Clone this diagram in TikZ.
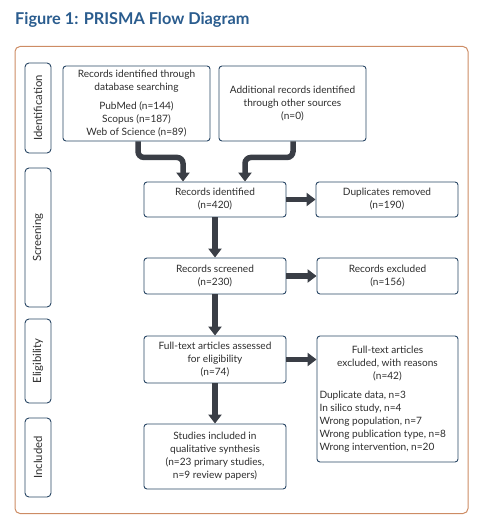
\documentclass[tikz,border=0pt]{standalone}
\usepackage{fontspec}
\setmainfont{Lato}
\usetikzlibrary{arrows.meta}
\definecolor{titleblue}{RGB}{42,92,142}
\definecolor{frameorange}{RGB}{205,140,100}
\definecolor{boxblue}{RGB}{40,70,100}
\definecolor{txt}{RGB}{45,45,45}
\definecolor{arrowgray}{RGB}{58,62,70}
\tikzset{
  box/.style={draw=boxblue, line width=0.9pt, rounded corners=3pt, align=center,
    text=txt, font=\fontsize{10.1pt}{13pt}\selectfont, inner sep=2pt},
  stagebox/.style={draw=boxblue, line width=0.9pt, rounded corners=4pt,
    minimum width=26pt},
  stagetext/.style={rotate=90, text=txt, font=\fontsize{11.3pt}{13pt}\selectfont},
  arr/.style={draw=arrowgray, line width=5.5pt,
    -{Triangle[width=13pt,length=9pt]}},
}
\begin{document}
\begin{tikzpicture}[x=1pt,y=-1pt]
\useasboundingbox (0,0) rectangle (479,526);
\node[anchor=base west, text=titleblue, font=\fontsize{16.3pt}{18pt}\selectfont\bfseries, inner sep=0pt] (title) at (15,25) {Figure 1: PRISMA Flow Diagram};
\draw[frameorange, line width=1pt, rounded corners=5pt] (15,46.5) rectangle (468,513.5);

% stage labels
\node[stagebox, minimum height=90pt] (sid) at (38,108) {};
\node[stagetext] (sidt) at (sid.center) {Identification};
\node[stagebox, minimum height=139pt] (ssc) at (38,237.5) {};
\node[stagetext] (ssct) at (ssc.center) {Screening};
\node[stagebox, minimum height=84pt] (sel) at (38,361) {};
\node[stagetext] (selt) at (sel.center) {Eligibility};
\node[stagebox, minimum height=79pt] (sin) at (38,457.5) {};
\node[stagetext] (sint) at (sin.center) {Included};

% boxes
\node[box, minimum width=147pt, minimum height=75pt] (b1) at (136.5,103.5)
  {Records identified through\\database searching\\[6pt]PubMed (n=144)\\Scopus (n=187)\\Web of Science (n=89)};
\node[box, minimum width=147pt, minimum height=75pt] (b2) at (292.5,103.5)
  {Additional records identified\\through other sources\\(n=0)};
\node[box, minimum width=142pt, minimum height=35pt] (ri) at (215,199.5)
  {Records identified\\(n=420)};
\node[box, minimum width=142pt, minimum height=35pt] (dr) at (387,199.5)
  {Duplicates removed\\(n=190)};
\node[box, minimum width=142pt, minimum height=36pt] (rs) at (215,276)
  {Records screened\\(n=230)};
\node[box, minimum width=141pt, minimum height=36pt] (re) at (387.5,276)
  {Records excluded\\(n=156)};
\node[box, minimum width=142pt, minimum height=47pt] (fa) at (215,359.5)
  {Full-text articles assessed\\for eligibility\\(n=74)};
\node[box, minimum width=141pt, minimum height=126pt, text width=136pt, align=none] (fe) at (387.5,399)
  {{\centering Full-text articles\\excluded, with reasons\\(n=42)\par}\vspace{6pt}{\raggedright Duplicate data, n=3\\In silico study, n=4\\Wrong population, n=7\\Wrong publication type, n=8\\Wrong intervention, n=20\par}};
\node[box, minimum width=142pt, minimum height=65pt] (si) at (215,456.5)
  {Studies included in\\qualitative synthesis\\(n=23 primary studies,\\n=9 review papers)};

% arrows
\draw[arr, rounded corners=6pt] ([xshift=1.5pt]b1.south) -- ++(0,16) -| ([xshift=-32pt]ri.north);
\draw[arr, rounded corners=6pt] ([xshift=0.5pt]b2.south) -- ++(0,16) -| ([xshift=30pt]ri.north);
\draw[arr] (ri.south) -- (rs.north);
\draw[arr] (rs.south) -- (fa.north);
\draw[arr] (fa.south) -- (si.north);
\draw[arr] (ri.east) -- (dr.west);
\draw[arr] (rs.east) -- (re.west);
\draw[arr] (fa.east) -- (fa.east -| fe.west);
\end{tikzpicture}
\end{document}
